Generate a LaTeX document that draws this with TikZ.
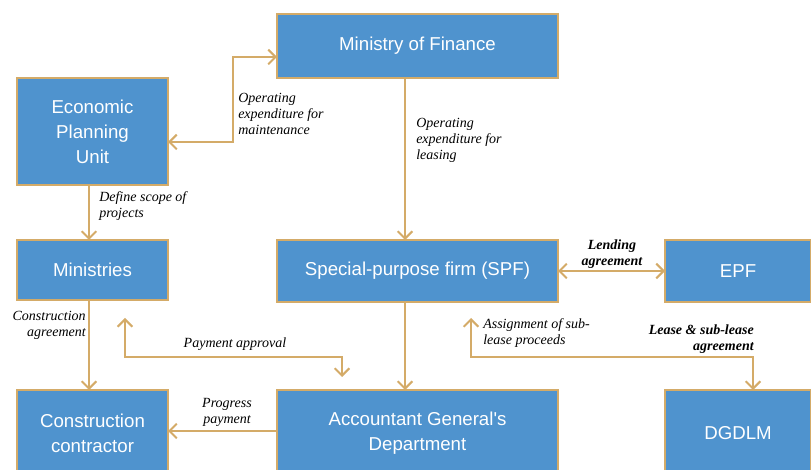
\documentclass[tikz,border=0pt]{standalone}
\usepackage{fontspec}
\setmainfont{Liberation Serif}
\newfontfamily\boxfont{Liberation Sans}
\usetikzlibrary{arrows.meta}
\definecolor{boxblue}{HTML}{4F93CE}
\definecolor{gold}{HTML}{D4AB68}
\begin{document}
\begin{tikzpicture}[x=0.75pt,y=-0.75pt,
  unit/.style={draw=gold,line width=1.5pt,fill=boxblue,text=white,
    inner sep=0pt,outer sep=0pt,align=center,
    font=\boxfont\fontsize{14}{18.75}\selectfont},
  wide/.style={unit,minimum width=210.75pt},
  narrow/.style={unit,minimum width=113.25pt},
  link/.style={draw=gold,line width=1.5pt,
    arrows={-Straight Barb[length=5.5pt,width=11pt,line width=1.5pt]}},
  dlink/.style={link,arrows={Straight Barb[length=5.5pt,width=11pt,line width=1.5pt]-Straight Barb[length=5.5pt,width=11pt,line width=1.5pt]}},
  lbl/.style={inner sep=0pt,font=\fontsize{10.5}{12}\selectfont\itshape},
  blbl/.style={lbl,font=\fontsize{10.5}{12}\selectfont\itshape\bfseries}]
\useasboundingbox (0,0) rectangle (811,470);

% boxes
\node[wide,minimum height=48pt] (mof) at (417.5,46) {Ministry of Finance};
\node[narrow,minimum height=80.25pt] (epu) at (92.5,131.5) {Economic\\Planning\\Unit};
\node[narrow,minimum height=45pt] (min) at (92.5,270) {Ministries};
\node[wide,minimum height=46.5pt] (spf) at (417.5,271) {Special-purpose firm (SPF)};
\node[unit,minimum width=109.5pt,minimum height=46.5pt] (epf) at (738,271) {EPF};
\node[narrow,minimum height=64.5pt] (cc) at (92.5,433) {Construction\\contractor};
\node[wide,minimum height=64.5pt] (agd) at (417.5,433) {Accountant General's\\Department};
\node[unit,minimum width=109.5pt,minimum height=64.5pt] (dgd) at (738,433) {DGDLM};

% bend points and free ends
\coordinate (a1) at (233,57);
\coordinate (a2) at (233,142);
\coordinate (b1) at (405,0);
\coordinate (c1) at (89,0);
\coordinate (p1) at (125,318);
\coordinate (p2) at (125,357);
\coordinate (p3) at (342,357);
\coordinate (p4) at (342,377);
\coordinate (q1) at (471,318);
\coordinate (q2) at (471,357);
\coordinate (q3) at (753,357);
\coordinate (r1) at (0,431);
\coordinate (s1) at (0,271);

% connectors
\draw[dlink] (mof.west |- a1) -- (a1) -- (a2) -- (epu.east |- a2);
\draw[link] (mof.south -| b1) -- (spf.north -| b1);
\draw[link] (epu.south -| c1) -- (min.north -| c1);
\draw[link] (min.south -| c1) -- (cc.north -| c1);
\draw[dlink] (spf.east |- s1) -- (epf.west |- s1);
\draw[link] (spf.south -| b1) -- (agd.north -| b1);
\draw[dlink] (p1) -- (p2) -- (p3) -- (p4);
\draw[dlink] (q1) -- (q2) -- (q3) -- (dgd.north -| q3);
\draw[link] (agd.west |- r1) -- (cc.east |- r1);

% labels
\node[lbl,anchor=north west,align=left] (l1) at (238,93) {Operating\\expenditure for\\maintenance};
\node[lbl,anchor=north west,align=left] (l2) at (416,118) {Operating\\expenditure for\\leasing};
\node[lbl,anchor=north west,align=left] (l3) at (99,191) {Define scope of\\projects};
\node[blbl,anchor=north,align=center] (l4) at (612,240) {Lending\\agreement};
\node[lbl,anchor=north east,align=right] (l5) at (86,311) {Construction\\agreement};
\node[lbl,anchor=north] (l6) at (235,338) {Payment approval};
\node[lbl,anchor=north west,align=left] (l7) at (483,318) {Assignment of sub-\\lease proceeds};
\node[blbl,anchor=north east,align=right] (l8) at (754,325) {Lease \& sub-lease\\agreement};
\node[lbl,anchor=north,align=center] (l9) at (227,398) {Progress\\payment};
\end{tikzpicture}
\end{document}
